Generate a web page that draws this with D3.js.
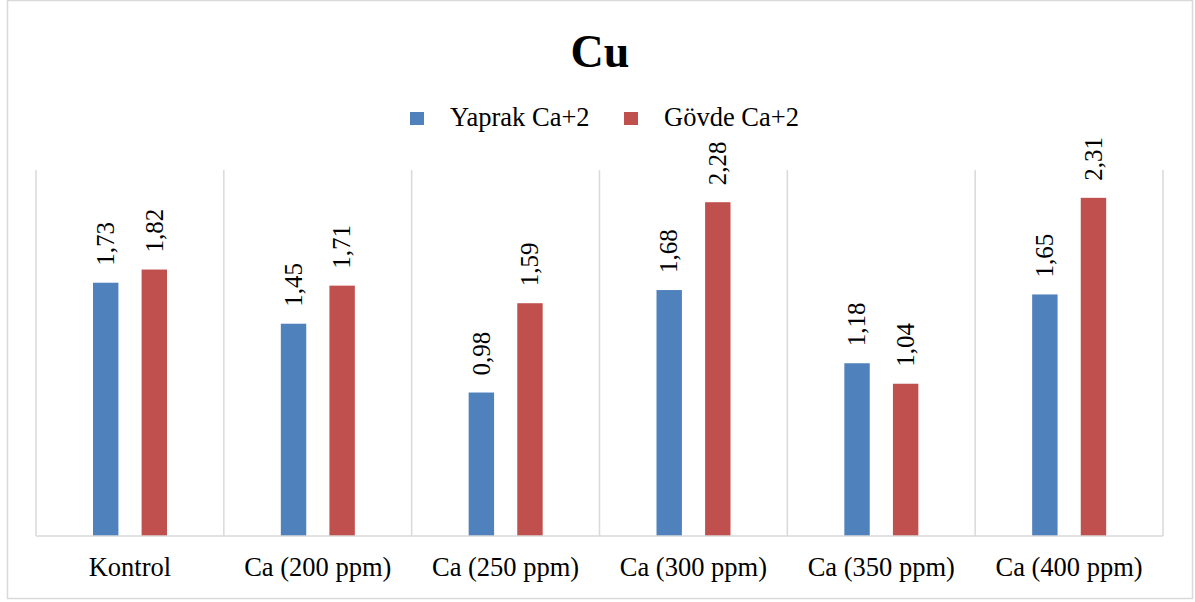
<!DOCTYPE html>
<html>
<head>
<meta charset="utf-8">
<script src="https://cdn.jsdelivr.net/npm/d3@7"></script>
<style>
	body { margin: 0; background: #ffffff; }
	svg text { font-family: 'Liberation Serif', 'Times New Roman', serif; fill: #000000; }
</style>
</head>
<body>
<svg id="chart" width="1195" height="602"></svg>
<script>

// chart data
var aCategories = ['Kontrol', 'Ca (200 ppm)', 'Ca (250 ppm)', 'Ca (300 ppm)', 'Ca (350 ppm)', 'Ca (400 ppm)'];
var aSeriesNames = ['Yaprak Ca+2', 'Gövde Ca+2'];
var aYaprak = [1.73, 1.45, 0.98, 1.68, 1.18, 1.65];
var aGovde = [1.82, 1.71, 1.59, 2.28, 1.04, 2.31];
var aSeriesColors = ['#4F81BD', '#C0504D'];
var strTitle = 'Cu';

var sSvg = d3.select('#chart');

var nPlotLeft = 36;
var nPlotRight = 1163;
var nPlotTop = 170;
var nPlotBottom = 536;

var aValues = [aYaprak, aGovde];

// outer frame
sSvg.append('rect')
	.attr('x', 7.5)
	.attr('y', 0.5)
	.attr('width', 1185)
	.attr('height', 598)
	.attr('fill', '#ffffff')
	.attr('stroke', '#d9d9d9')
	.attr('stroke-width', 1.5);

var xScale = d3.scaleBand()
	.domain(aCategories)
	.range([nPlotLeft, nPlotRight])
	.paddingInner(0)
	.paddingOuter(0);

var xSubScale = d3.scaleBand()
	.domain(aSeriesNames)
	.range([57, 131])
	.paddingInner(0.477);

var yScale = d3.scaleLinear()
	.domain([0, 2.5])
	.range([nPlotBottom, nPlotTop]);

// vertical separators between categories
var aEdges = aCategories.map(function(c) { return xScale(c); });
aEdges.push(nPlotRight);

sSvg.selectAll('.grid-v')
	.data(aEdges)
	.enter()
	.append('line')
		.attr('class', 'grid-v')
		.attr('x1', function(d) { return d; })
		.attr('x2', function(d) { return d; })
		.attr('y1', nPlotTop)
		.attr('y2', nPlotBottom)
		.attr('stroke', '#d9d9d9')
		.attr('stroke-width', 1.5);

// bars
var sGroups = sSvg.selectAll('.cat')
	.data(aCategories)
	.enter()
	.append('g')
		.attr('class', 'cat')
		.attr('transform', function(c) { return 'translate(' + xScale(c) + ',0)'; });

function SeriesOf(c, i)
{
	return aSeriesNames.map(function(s, j) { return { series: s, idx: j, value: aValues[j][i] }; });
}

sGroups.selectAll('rect')
	.data(SeriesOf)
	.enter()
	.append('rect')
		.attr('x', function(d) { return xSubScale(d.series); })
		.attr('y', function(d) { return yScale(d.value); })
		.attr('width', xSubScale.bandwidth())
		.attr('height', function(d) { return nPlotBottom - yScale(d.value); })
		.attr('fill', function(d) { return aSeriesColors[d.idx]; });

// rotated value labels
sGroups.selectAll('.val')
	.data(SeriesOf)
	.enter()
	.append('text')
		.attr('class', 'val')
		.attr('transform', function(d)
		{
			var cx = xSubScale(d.series) + xSubScale.bandwidth() / 2;
			return 'translate(' + cx + ',' + (yScale(d.value) - 17) + ') rotate(-90)';
		})
		.attr('dy', '0.33em')
		.attr('font-size', '25px')
		.text(function(d) { return d.value.toFixed(2).replace('.', ','); });

// baseline
sSvg.append('line')
	.attr('x1', nPlotLeft)
	.attr('x2', nPlotRight)
	.attr('y1', nPlotBottom)
	.attr('y2', nPlotBottom)
	.attr('stroke', '#d9d9d9')
	.attr('stroke-width', 1.5);

// category labels
sSvg.selectAll('.cat-label')
	.data(aCategories)
	.enter()
	.append('text')
		.attr('class', 'cat-label')
		.attr('x', function(c) { return xScale(c) + xScale.bandwidth() / 2; })
		.attr('y', 576)
		.attr('text-anchor', 'middle')
		.attr('font-size', '26.5px')
		.text(function(c) { return c; });

// title
sSvg.append('text')
	.attr('x', 600)
	.attr('y', 67)
	.attr('text-anchor', 'middle')
	.attr('font-size', '46px')
	.attr('font-weight', 'bold')
	.text(strTitle);

// legend
var aLegendX = [410, 624];
var sLegend = sSvg.selectAll('.legend')
	.data(aSeriesNames)
	.enter()
	.append('g')
		.attr('class', 'legend')
		.attr('transform', function(s, i) { return 'translate(' + aLegendX[i] + ',112)'; });

sLegend.append('rect')
	.attr('width', 14)
	.attr('height', 13)
	.attr('fill', function(s, i) { return aSeriesColors[i]; });

sLegend.append('text')
	.attr('x', 40)
	.attr('y', 14)
	.attr('font-size', '26.5px')
	.text(function(s) { return s; });

</script>
</body>
</html>
